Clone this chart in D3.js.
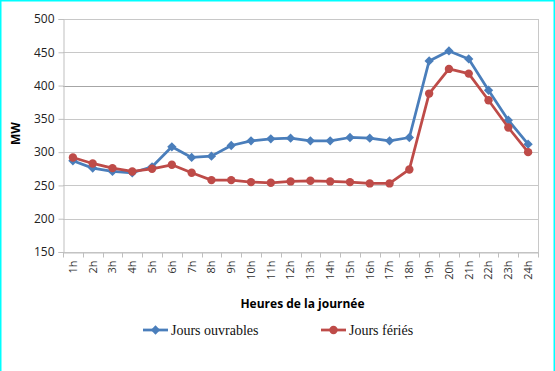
<!DOCTYPE html>
<html>
<head>
<meta charset="utf-8">
<script src="https://cdn.jsdelivr.net/npm/d3@7"></script>
<style>
  body { margin: 0; background: #fff; }
  svg { display: block; }
</style>
</head>
<body>
<script>
const hours = ["1h","2h","3h","4h","5h","6h","7h","8h","9h","10h","11h","12h","13h","14h","15h","16h","17h","18h","19h","20h","21h","22h","23h","24h"];
const ouvrables = [287, 276, 271, 269, 278, 308, 292, 294, 310, 317, 320, 321, 317, 317, 322, 321, 317, 322, 437, 452, 440, 393, 348, 312];
const feries = [292, 283, 276, 271, 275, 281, 269, 258, 258, 255, 254, 256, 257, 256, 255, 253, 253, 274, 388, 425, 418, 378, 337, 300];
const yTicks = [150, 200, 250, 300, 350, 400, 450, 500];

const svgWidth = 555;
const svgHeight = 371;
const margin = { top: 19, right: 17, bottom: 119, left: 63 };
const width = svgWidth - margin.left - margin.right;
const height = svgHeight - margin.top - margin.bottom;

var svg = d3.select("body")
  .append("svg")
  .attr("width", svgWidth)
  .attr("height", svgHeight);

// cyan frame
svg.append("rect")
  .attr("x", 0.75).attr("y", 0.75)
  .attr("width", svgWidth - 1.5).attr("height", svgHeight + 5)
  .attr("fill", "none")
  .attr("stroke", "#00ffff")
  .attr("stroke-width", 1.5);

var g = svg.append("g").attr("transform", "translate(" + margin.left + "," + margin.top + ")");

var x = d3.scaleBand().domain(hours).range([0, width]);
var y = d3.scaleLinear().domain([150, 500]).range([height, 0]);

// gridlines
g.append("g")
  .selectAll("line")
  .data(yTicks)
  .enter()
  .append("line")
  .attr("x1", 0)
  .attr("x2", width)
  .attr("y1", function (d) { return Math.round(y(d)) + 0.5; })
  .attr("y2", function (d) { return Math.round(y(d)) + 0.5; })
  .attr("stroke", function (d) { return d == 400 ? "#a6a6a6" : "#c8c8c8"; })
  .attr("stroke-width", 1);

// right border of plot
g.append("line")
  .attr("x1", width + 0.5).attr("x2", width + 0.5)
  .attr("y1", 0).attr("y2", height + 5)
  .attr("stroke", "#c8c8c8");

// y axis
var yAxis = g.append("g")
  .attr("transform", "translate(0.5,0)")
  .call(d3.axisLeft(y).tickValues(yTicks).tickSize(5).tickPadding(4));
yAxis.select(".domain").attr("stroke", "#bfbfbf");
yAxis.selectAll(".tick line").attr("stroke", "#bfbfbf");
yAxis.selectAll("text")
  .style("font-family", "Open Sans, sans-serif")
  .style("font-size", "12px")
  .attr("fill", "#222");

// x axis with ticks at band boundaries
var xAxis = g.append("g")
  .attr("transform", "translate(0," + (Math.round(height) + 0.5) + ")")
  .call(d3.axisBottom(x).tickSize(0).tickPadding(6));
xAxis.select(".domain").attr("stroke", "#bfbfbf");
xAxis.selectAll("text")
  .attr("transform", "rotate(-90)")
  .attr("x", -8)
  .attr("y", 0)
  .attr("dy", "0.35em")
  .style("text-anchor", "end")
  .style("font-family", "Open Sans, sans-serif")
  .style("font-size", "11px")
  .attr("fill", "#333");
xAxis.selectAll(".boundary")
  .data(d3.range(hours.length + 1))
  .enter()
  .append("line")
  .attr("class", "boundary")
  .attr("x1", function (i) { return Math.round(i * x.step()) + 0.5; })
  .attr("x2", function (i) { return Math.round(i * x.step()) + 0.5; })
  .attr("y1", 0)
  .attr("y2", 5)
  .attr("stroke", "#bfbfbf");

// titles
svg.append("text")
  .attr("transform", "translate(16," + (margin.top + height / 2 - 2) + ") rotate(-90)")
  .attr("text-anchor", "middle")
  .attr("dy", "0.35em")
  .style("font-family", "Open Sans, sans-serif")
  .style("font-size", "12px")
  .style("font-weight", "bold")
  .text("MW");

svg.append("text")
  .attr("x", margin.left + width / 2 + 2)
  .attr("y", 308)
  .attr("text-anchor", "middle")
  .style("font-family", "Open Sans, sans-serif")
  .style("font-size", "12px")
  .style("font-weight", "bold")
  .text("Heures de la journée");

var series = [
  { name: "Jours ouvrables", values: ouvrables, color: "#4a7ebb", marker: "diamond", lx: 143 },
  { name: "Jours fériés", values: feries, color: "#be4b48", marker: "circle", lx: 321 }
];

var line = d3.line()
  .x(function (d, i) { return x(hours[i]) + x.bandwidth() / 2; })
  .y(function (d) { return y(d); });

series.forEach(function (s) {
  g.append("path")
    .datum(s.values)
    .attr("fill", "none")
    .attr("stroke", s.color)
    .attr("stroke-width", 2.75)
    .attr("stroke-linejoin", "round")
    .attr("d", line);

  var sym = s.marker == "diamond"
    ? d3.symbol().type(d3.symbolDiamond2).size(55)
    : d3.symbol().type(d3.symbolCircle).size(55);

  g.append("g")
    .selectAll("path")
    .data(s.values)
    .enter()
    .append("path")
    .attr("d", sym)
    .attr("transform", function (d, i) {
      return "translate(" + (x(hours[i]) + x.bandwidth() / 2) + "," + y(d) + ")";
    })
    .attr("fill", s.color);

  // legend
  var lg = svg.append("g").attr("transform", "translate(" + s.lx + ",330)");
  lg.append("line")
    .attr("x1", 0).attr("x2", 25)
    .attr("y1", 0).attr("y2", 0)
    .attr("stroke", s.color)
    .attr("stroke-width", 2.75);
  lg.append("path")
    .attr("d", sym)
    .attr("transform", "translate(12.5,0)")
    .attr("fill", s.color);
  lg.append("text")
    .attr("x", 28)
    .attr("y", 0)
    .attr("dy", "0.35em")
    .style("font-family", "Liberation Serif, serif")
    .style("font-size", "14px")
    .attr("fill", "#111")
    .text(s.name);
});
</script>
</body>
</html>
